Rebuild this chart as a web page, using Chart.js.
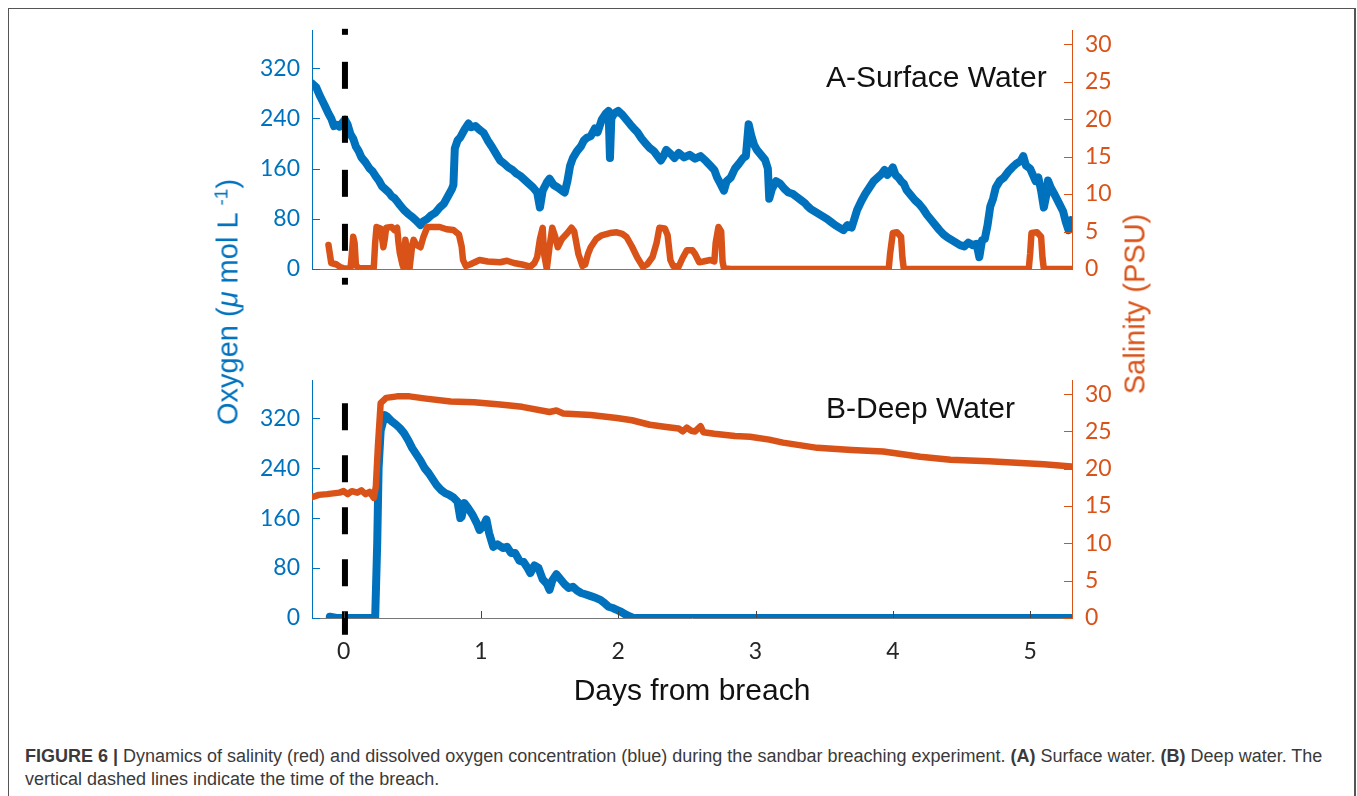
<!DOCTYPE html>
<html>
<head>
<meta charset="utf-8">
<script src="https://cdn.jsdelivr.net/npm/chart.js@4.4.1/dist/chart.umd.min.js"></script>
<style>
  body { margin: 0; width: 1357px; height: 796px; overflow: hidden; position: relative; background: #fff;
         font-family: "Liberation Sans", Arial, sans-serif; }
  #frame { position: absolute; left: 8px; top: 8px; width: 1345px; height: 800px;
           border: 1px solid #555; border-right-width: 2px; }
  canvas { position: absolute; left: 0; }
  #topPanel { top: 0; }
  #bottomPanel { top: 340px; }
  .txt { position: absolute; white-space: nowrap; line-height: 1; font-size: 30px; color: #111; }
  .rot { transform: translate(-50%, -50%) rotate(-90deg); font-size: 29px; }
  .rot sup { font-size: 19px; vertical-align: 0.55em; line-height: 0; }
  #caption { position: absolute; left: 25px; top: 745px; white-space: nowrap; font-size: 18px; line-height: 23px; color: #3a3a3a; }
</style>
</head>
<body>
<div id="frame"></div>
<canvas id="topPanel" width="1357" height="300"></canvas>
<canvas id="bottomPanel" width="1357" height="340"></canvas>

<div class="txt" style="left:826px; top:62px;">A-Surface Water</div>
<div class="txt" style="left:826px; top:393px;">B-Deep Water</div>
<div class="txt" style="left:692px; top:675px; transform:translateX(-50%);">Days from breach</div>
<div class="txt rot" style="left:228px; top:302px; color:#0072BD;">Oxygen (<i>μ</i> mol L <sup>-1</sup>)</div>
<div class="txt rot" style="left:1135px; top:304px; color:#D95319;">Salinity (PSU)</div>
<div id="caption"><b>FIGURE 6 |</b> Dynamics of salinity (red) and dissolved oxygen concentration (blue) during the sandbar breaching experiment. <b>(A)</b> Surface water. <b>(B)</b> Deep water. The<br>vertical dashed lines indicate the time of the breach.</div>

<script>
const OXY_BLUE = '#0072BD';
const SAL_ORANGE = '#D95319';

// axis ticks
const dayTicks = [0, 1, 2, 3, 4, 5];
const oxyTicks = [0, 80, 160, 240, 320];
const salTicks = [0, 5, 10, 15, 20, 25, 30];
const dayRange = [-0.23, 5.305];
const oxyMax = 380;
const salMax = 31.8;

// breach marker (days, oxygen extent of the dashed line in each panel)
const breachDay = 0.01;
const surfBreachSpan = [383, -25];
const deepBreachSpan = [344, -27];

// --- A: surface water ---
const surfOxyDays = [-0.23, -0.20, -0.17, -0.14, -0.11, -0.09, -0.07, -0.05, -0.03, -0.01, 0.01, 0.03, 0.05, 0.07, 0.09,
  0.11, 0.13, 0.16, 0.19, 0.21, 0.24, 0.26, 0.28, 0.30, 0.33, 0.35, 0.37, 0.39, 0.41, 0.44, 0.47, 0.50, 0.53, 0.56,
  0.58, 0.61, 0.64, 0.67, 0.70, 0.73, 0.76, 0.79, 0.80, 0.81, 0.83, 0.85, 0.88, 0.91, 0.93, 0.96, 0.99, 1.02, 1.05,
  1.08, 1.11, 1.14, 1.17, 1.20, 1.23, 1.26, 1.29, 1.32, 1.35, 1.38, 1.41, 1.43, 1.45, 1.48, 1.50, 1.53, 1.56, 1.59,
  1.61, 1.63, 1.65, 1.67, 1.70, 1.73, 1.75, 1.77, 1.80, 1.83, 1.85, 1.88, 1.91, 1.93, 1.94, 1.95, 1.97, 2.00, 2.03,
  2.06, 2.09, 2.11, 2.14, 2.17, 2.20, 2.23, 2.26, 2.28, 2.31, 2.33, 2.35, 2.38, 2.41, 2.44, 2.48, 2.52, 2.56, 2.60,
  2.64, 2.67, 2.70, 2.72, 2.74, 2.77, 2.79, 2.82, 2.85, 2.88, 2.91, 2.93, 2.95, 2.97, 2.99, 3.01, 3.04, 3.07, 3.09,
  3.10, 3.12, 3.15, 3.18, 3.21, 3.24, 3.27, 3.30, 3.33, 3.36, 3.38, 3.40, 3.43, 3.46, 3.49, 3.52, 3.55, 3.58, 3.61,
  3.64, 3.67, 3.70, 3.72, 3.74, 3.77, 3.80, 3.83, 3.86, 3.89, 3.92, 3.94, 3.96, 3.98, 4.00, 4.02, 4.04, 4.06, 4.08,
  4.10, 4.13, 4.16, 4.19, 4.22, 4.25, 4.28, 4.31, 4.34, 4.37, 4.40, 4.43, 4.46, 4.49, 4.52, 4.55, 4.58, 4.61, 4.63,
  4.65, 4.67, 4.69, 4.71, 4.73, 4.75, 4.78, 4.81, 4.84, 4.87, 4.90, 4.93, 4.95, 4.97, 5.00, 5.02, 5.04, 5.06, 5.08,
  5.10, 5.12, 5.13, 5.15, 5.18, 5.21, 5.24, 5.26, 5.28, 5.30];
const surfOxy = [296, 290, 275, 262, 248, 240, 228, 230, 227, 233, 238, 230, 215, 208, 195,
  188, 178, 170, 160, 156, 146, 140, 132, 128, 122, 116, 113, 108, 102, 94, 88, 83, 77, 70,
  76, 80, 86, 90, 98, 104, 116, 128, 134, 192, 205, 210, 222, 232, 226, 228, 222, 217, 205,
  195, 184, 173, 168, 162, 158, 152, 148, 142, 136, 130, 122, 98, 125, 138, 144, 134, 130, 125,
  122, 140, 165, 177, 188, 196, 205, 209, 212, 224, 218, 238, 248, 252, 177, 240, 248, 252, 246,
  238, 230, 225, 218, 208, 200, 193, 188, 182, 173, 180, 190, 184, 177, 185, 178, 182, 176, 180,
  172, 165, 158, 146, 138, 125, 140, 146, 160, 168, 177, 180, 231, 212, 198, 190, 182, 174, 160,
  112, 128, 140, 136, 128, 122, 120, 115, 110, 105, 100, 96, 92, 88, 84, 80, 75, 70, 66,
  62, 70, 66, 80, 94, 108, 120, 130, 140, 146, 152, 158, 150, 155, 162, 150, 146, 140, 136,
  126, 118, 110, 104, 96, 86, 78, 70, 62, 55, 50, 46, 42, 38, 36, 42, 38, 40, 19,
  46, 48, 70, 100, 112, 130, 141, 146, 155, 162, 168, 172, 180, 165, 160, 150, 140, 146, 125,
  98, 120, 141, 130, 118, 105, 92, 75, 62, 78];

const surfSalDays = [-0.11, -0.10, -0.09, -0.05, -0.02, 0.00, 0.05, 0.06, 0.07, 0.08, 0.09, 0.11, 0.20, 0.22, 0.23,
  0.24, 0.27, 0.29, 0.30, 0.31, 0.35, 0.37, 0.39, 0.40, 0.41, 0.43, 0.44, 0.45, 0.47, 0.48, 0.50, 0.51, 0.53, 0.56,
  0.58, 0.61, 0.66, 0.70, 0.75, 0.80, 0.84, 0.86, 0.87, 0.89, 0.92, 0.99, 1.05, 1.14, 1.19, 1.24, 1.30, 1.36, 1.39,
  1.41, 1.43, 1.45, 1.46, 1.48, 1.50, 1.52, 1.54, 1.56, 1.59, 1.63, 1.66, 1.68, 1.71, 1.74, 1.76, 1.78, 1.80, 1.84,
  1.88, 1.94, 1.99, 2.03, 2.06, 2.10, 2.14, 2.18, 2.21, 2.25, 2.28, 2.30, 2.34, 2.36, 2.38, 2.40, 2.44, 2.47, 2.50,
  2.54, 2.56, 2.59, 2.62, 2.67, 2.70, 2.71, 2.73, 2.75, 2.76, 2.77, 2.82, 3.97, 3.98, 4.00, 4.03, 4.06, 4.07, 4.08,
  4.99, 5.00, 5.01, 5.05, 5.08, 5.09, 5.10, 5.30];
const surfSal = [3.2, 2.0, 0.8, 0.6, 0.2, 0.1, 0, 2.0, 4.3, 3.5, 0.5, 0.1, 0.1, 0.2, 3.5,
  5.6, 5.4, 2.9, 4.0, 5.5, 5.6, 5.2, 5.5, 3.5, 2.1, 0.5, 0, 3.9, 1.5, 0, 3.2, 3.9, 3.2, 2.9,
  4.2, 5.6, 5.6, 5.6, 5.3, 5.2, 4.6, 3.0, 1.2, 0.4, 0.6, 1.2, 1.0, 0.9, 1.1, 0.8, 0.6, 0.3, 0.8,
  1.6, 4.0, 5.5, 2.0, 0, 3.0, 5.5, 4.4, 2.9, 4.0, 4.8, 5.5, 5.0, 2.0, 0.4, 0.6, 2.0, 2.9, 4.0,
  4.5, 4.8, 4.9, 4.7, 4.3, 3.0, 1.5, 0.3, 0.6, 1.6, 3.5, 5.5, 5.4, 4.5, 1.2, 0.4, 0.3, 1.5, 2.5,
  2.5, 2.0, 0.9, 1.0, 1.2, 1.0, 3.5, 5.6, 5.0, 1.0, 0.1, 0, 0, 2.0, 4.8, 4.9, 4.3, 1.5, 0,
  0, 2.0, 4.8, 4.9, 4.3, 1.5, 0, 0];

// --- B: deep water ---
const deepOxyDays = [-0.10, -0.05, 0.00, 0.10, 0.22, 0.23, 0.245, 0.255, 0.27, 0.30, 0.32, 0.35, 0.38, 0.41, 0.44,
  0.47, 0.50, 0.53, 0.56, 0.59, 0.62, 0.65, 0.68, 0.71, 0.74, 0.77, 0.80, 0.83, 0.85, 0.86, 0.88, 0.91, 0.94, 0.97,
  0.99, 1.02, 1.04, 1.06, 1.09, 1.12, 1.16, 1.19, 1.22, 1.25, 1.28, 1.31, 1.34, 1.36, 1.39, 1.42, 1.45, 1.48, 1.50,
  1.52, 1.55, 1.58, 1.61, 1.64, 1.67, 1.70, 1.73, 1.76, 1.80, 1.84, 1.87, 1.90, 1.93, 1.96, 1.99, 2.02, 2.05, 2.08,
  2.11, 2.50, 3.50, 4.50, 5.30];
const deepOxy = [2, 0, 0, 0, 0, 0, 120, 240, 300, 325, 322, 315, 310, 304, 296,
  285, 272, 262, 252, 240, 232, 222, 212, 205, 200, 197, 193, 186, 160, 162, 184, 175, 165, 152,
  141, 148, 158, 136, 114, 118, 112, 114, 104, 104, 92, 90, 80, 72, 84, 80, 62, 55, 45,
  60, 70, 62, 54, 48, 50, 44, 40, 38, 35, 32, 29, 24, 18, 16, 13, 10, 6, 3,
  0, 0, 0, 0, 0];

const deepSalDays = [-0.23, -0.18, -0.12, -0.075, -0.03, 0.00, 0.03, 0.06, 0.10, 0.13, 0.16, 0.19, 0.22, 0.235, 0.25,
  0.27, 0.31, 0.39, 0.48, 0.60, 0.78, 0.95, 1.14, 1.30, 1.50, 1.55, 1.60, 1.80, 1.99, 2.10, 2.23, 2.35, 2.44, 2.47,
  2.50, 2.53, 2.56, 2.60, 2.62, 2.70, 2.85, 2.96, 3.10, 3.20, 3.45, 3.70, 3.93, 4.20, 4.42, 4.70, 4.90, 5.10, 5.30];
const deepSal = [16.2, 16.5, 16.6, 16.7, 16.8, 17.0, 16.6, 17.0, 16.8, 17.1, 16.6, 16.9, 16.1, 17.6, 23.0,
  28.8, 29.5, 29.7, 29.7, 29.4, 29.0, 28.9, 28.6, 28.3, 27.6, 27.8, 27.4, 27.2, 26.8, 26.5, 25.9, 25.6, 25.4, 25.0,
  25.5, 25.1, 25.0, 25.7, 24.9, 24.7, 24.4, 24.3, 23.9, 23.5, 22.8, 22.5, 22.3, 21.6, 21.2, 21.0, 20.8, 20.6, 20.3];

Chart.defaults.font.family = 'Lato';
Chart.defaults.font.size = 23;

const pts = (xs, ys) => xs.map((x, i) => ({ x, y: ys[i] }));
const useTicks = values => scale => { scale.ticks = values.map(v => ({ value: v })); };

// MATLAB-style ticks that point into the plot box
const innerTicks = {
  id: 'innerTicks',
  afterDatasetsDraw(chart, args, opts) {
    const { ctx, chartArea: a, scales } = chart;
    ctx.save();
    ctx.lineWidth = 1;
    const mark = (color, list) => {
      ctx.strokeStyle = color;
      list.forEach(([x1, y1, x2, y2]) => {
        ctx.beginPath(); ctx.moveTo(x1, y1); ctx.lineTo(x2, y2); ctx.stroke();
      });
    };
    mark(OXY_BLUE, oxyTicks.map(v => {
      const y = Math.round(scales.yOxy.getPixelForValue(v)) + 0.5;
      return [a.left, y, a.left + 8, y];
    }));
    mark(SAL_ORANGE, salTicks.map(v => {
      const y = Math.round(scales.ySal.getPixelForValue(v)) + 0.5;
      return [a.right - 8, y, a.right, y];
    }));
    if (opts.showDays) {
      mark('#444', dayTicks.map(v => {
        const x = Math.round(scales.x.getPixelForValue(v)) + 0.5;
        return [x, a.bottom, x, a.bottom - 7];
      }));
    }
    ctx.restore();
  }
};

function makePanel(canvasId, cfg) {
  return new Chart(document.getElementById(canvasId), {
    type: 'line',
    data: {
      datasets: [
        {
          // breach marker
          data: pts([breachDay, breachDay], cfg.breachSpan),
          yAxisID: 'yOxy',
          borderColor: '#000',
          borderWidth: 6,
          borderDash: cfg.breachDash,
          borderDashOffset: cfg.breachDashOffset,
          borderCapStyle: 'butt',
          pointRadius: 0,
          clip: false
        },
        {
          data: pts(cfg.salDays, cfg.sal),
          yAxisID: 'ySal',
          borderColor: SAL_ORANGE,
          borderWidth: 6.5,
          borderJoinStyle: 'round',
          borderCapStyle: 'round',
          pointRadius: 0
        },
        {
          data: pts(cfg.oxyDays, cfg.oxy),
          yAxisID: 'yOxy',
          borderColor: OXY_BLUE,
          borderWidth: 8,
          borderJoinStyle: 'round',
          borderCapStyle: 'round',
          pointRadius: 0
        }
      ]
    },
    options: {
      responsive: false,
      animation: false,
      events: [],
      layout: { padding: { top: cfg.padTop, left: 0, right: 0, bottom: 0 } },
      plugins: { legend: { display: false }, tooltip: { enabled: false }, innerTicks: { showDays: cfg.showDays } },
      scales: {
        x: {
          type: 'linear',
          min: dayRange[0],
          max: dayRange[1],
          afterBuildTicks: useTicks(dayTicks),
          afterFit: s => { s.height = cfg.xHeight; },
          grid: { drawOnChartArea: false, drawTicks: false },
          border: { display: true, color: '#777', width: 1 },
          ticks: { display: cfg.showDays, color: '#262626', padding: 20, maxRotation: 0 }
        },
        yOxy: {
          position: 'left',
          min: 0,
          max: oxyMax,
          afterBuildTicks: useTicks(oxyTicks),
          afterFit: s => { s.width = 312; },
          grid: { drawOnChartArea: false, drawTicks: false },
          border: { display: true, color: OXY_BLUE, width: 1 },
          ticks: { color: OXY_BLUE, padding: 12 }
        },
        ySal: {
          position: 'right',
          min: 0,
          max: salMax,
          afterBuildTicks: useTicks(salTicks),
          afterFit: s => { s.width = 285; },
          grid: { drawOnChartArea: false, drawTicks: false },
          border: { display: true, color: SAL_ORANGE, width: 1 },
          ticks: { color: SAL_ORANGE, padding: 13 }
        }
      }
    },
    plugins: [innerTicks]
  });
}

makePanel('topPanel', {
  oxyDays: surfOxyDays, oxy: surfOxy, salDays: surfSalDays, sal: surfSal,
  breachSpan: surfBreachSpan, breachDash: [27, 27], breachDashOffset: 21,
  padTop: 30.7, xHeight: 31, showDays: false
});

makePanel('bottomPanel', {
  oxyDays: deepOxyDays, oxy: deepOxy, salDays: deepSalDays, sal: deepSal,
  breachSpan: deepBreachSpan, breachDash: [27, 25], breachDashOffset: 0,
  padTop: 40.7, xHeight: 62, showDays: true
});
</script>
</body>
</html>
